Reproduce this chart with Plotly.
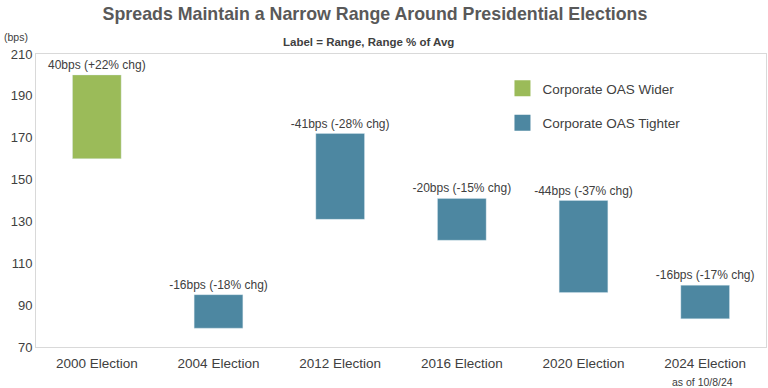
import plotly.graph_objects as go

categories = ["2000 Election", "2004 Election", "2012 Election", "2016 Election", "2020 Election", "2024 Election"]
start_bps = [160, 95, 172, 141, 140, 99.5]
end_bps = [200, 79, 131, 121, 96, 83.5]
change_bps = [40, -16, -41, -20, -44, -16]
change_pct = [22, -18, -28, -15, -37, -17]
y_ticks = [70, 90, 110, 130, 150, 170, 190, 210]

GREEN = "#9BBB59"
BLUE = "#4D87A1"
TXT = "#404040"
TITLE_C = "#595959"
FONT = "Liberation Sans, Arial, sans-serif"

labels = [f"{c}bps ({'+' if p > 0 else ''}{p}% chg)" for c, p in zip(change_bps, change_pct)]
lows = [min(s, e) for s, e in zip(start_bps, end_bps)]
heights = [abs(e - s) for s, e in zip(start_bps, end_bps)]
colors = [GREEN if e > s else BLUE for s, e in zip(start_bps, end_bps)]

L, R, T, B = 36, 2, 54, 41
PW, PH = 768 - L - R, 388 - T - B

fig = go.Figure()
fig.add_trace(go.Bar(
    x=categories, y=heights, base=lows,
    marker=dict(color=colors, line=dict(color="rgba(220,235,245,0.6)", width=0.6)),
    width=0.4,
    text=labels, textposition="outside", constraintext="none",
    textfont=dict(family=FONT, size=12, color=TXT),
    cliponaxis=False, showlegend=False, hoverinfo="skip",
))
for name, col in [("Corporate OAS Wider", GREEN), ("Corporate OAS Tighter", BLUE)]:
    fig.add_trace(go.Scatter(
        x=[None], y=[None], mode="markers", name=name,
        marker=dict(symbol="square", size=17, color=col),
        legendgroup=name,
    ))

fig.update_layout(
    width=768, height=388,
    margin=dict(l=L, r=R, t=T, b=B),
    paper_bgcolor="white", plot_bgcolor="white",
    font=dict(family=FONT, color=TXT),
    title=dict(text="<b>Spreads Maintain a Narrow Range Around Presidential Elections</b>",
               x=375 / 768, xanchor="center", y=1 - 14 / 388, yanchor="middle",
               font=dict(size=17.8, color=TITLE_C, family=FONT)),
    xaxis=dict(showgrid=False, showline=True, mirror=True, linecolor="#D9D9D9", linewidth=1,
               ticks="", ticklabelstandoff=4, tickfont=dict(size=13.5, color=TXT, family=FONT)),
    yaxis=dict(range=[70, 210], tickvals=y_ticks, showgrid=False, zeroline=False,
               showline=True, mirror=True, linecolor="#D9D9D9", linewidth=1,
               ticks="", tickfont=dict(size=13, color=TXT, family=FONT)),
    legend=dict(x=0.639, y=0.935, xanchor="left", yanchor="top",
                font=dict(size=13.5, color=TXT, family=FONT),
                tracegroupgap=14, bgcolor="rgba(0,0,0,0)"),
    annotations=[
        dict(text="<b>Label = Range, Range % of Avg</b>", xref="paper", yref="paper",
             x=(368.5 - L) / PW, y=(388 - B - 42) / PH, yanchor="middle", xanchor="center",
             showarrow=False, font=dict(size=11.5, color=TXT, family=FONT)),
        dict(text="(bps)", xref="paper", yref="paper", x=(2 - L) / PW, y=(388 - B - 37) / PH,
             xanchor="left", yanchor="middle", showarrow=False,
             font=dict(size=10.5, color=TXT, family=FONT)),
        dict(text="as of 10/8/24", xref="paper", yref="paper", x=(702 - L) / PW, y=(388 - B - 382) / PH,
             xanchor="center", yanchor="middle", showarrow=False,
             font=dict(size=10.5, color=TXT, family=FONT)),
    ],
)

fig.write_html("out.html", config={"displayModeBar": False},
               post_script="document.body.style.margin='0';document.body.style.padding='0';")
